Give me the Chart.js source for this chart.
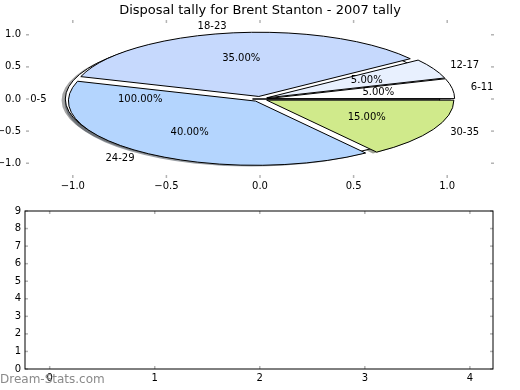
<!DOCTYPE html>
<html>
<head>
<meta charset="utf-8">
<script src="https://cdn.jsdelivr.net/npm/chart.js@4/dist/chart.umd.min.js"></script>
<style>
  body{ margin:0; background:#fff; }
  #wrap{ position:relative; width:520px; height:390px; }
  canvas{ position:absolute; left:0; }
  #pieChart{ top:0; }
  #emptyChart{ top:200px; }
</style>
</head>
<body>
<div id="wrap">
  <canvas id="pieChart" width="520" height="200"></canvas>
  <canvas id="emptyChart" width="520" height="190"></canvas>
</div>
<script>
// data
const titleText = 'Disposal tally for Brent Stanton - 2007 tally';
const baseGroups = ['0-5'];
const baseShares = [100];
const groups = ['6-11', '12-17', '18-23', '24-29', '30-35'];
const shares = [5, 5, 35, 40, 15];
const pieTicks = [-1.0, -0.5, 0.0, 0.5, 1.0];
const lowerXTicks = [0, 1, 2, 3, 4];
const lowerYTicks = [0, 1, 2, 3, 4, 5, 6, 7, 8, 9];

// styles
const baseColors = ['#ffffff'];
const sliceColors = ['#ffffff', '#e8f0fe', '#c6d9fd', '#b4d5fe', '#d0ea8b'];
const EXPLODE = 0.04;
const FONT = '"DejaVu Sans", sans-serif';

function wedges(values, labels, colors){
  const total = values.reduce((a, b) => a + b, 0);
  let a = 0;
  return values.map((v, i) => {
    const span = v / total * 2 * Math.PI;
    const mid = a + span / 2;
    const w = { a0:a, a1:a + span, mid, ox:EXPLODE * Math.cos(mid), oy:EXPLODE * Math.sin(mid),
                label:labels[i], pct:v / total * 100, color:colors[i] };
    a += span;
    return w;
  });
}

function wedgePath(ctx, xs, ys, w, dx, dy){
  const px = xs.getPixelForValue(w.ox + dx), py = ys.getPixelForValue(w.oy + dy);
  const rx = xs.getPixelForValue(1) - xs.getPixelForValue(0);
  const ry = ys.getPixelForValue(0) - ys.getPixelForValue(1);
  ctx.beginPath();
  ctx.moveTo(px, py);
  ctx.ellipse(px, py, rx, ry, 0, -w.a0, -w.a1, true);
  ctx.closePath();
}

function shadowOf(hex){
  const n = parseInt(hex.slice(1), 16);
  const r = (n >> 16) & 255, g = (n >> 8) & 255, b = n & 255;
  return 'rgba(' + Math.round(r * 0.3) + ',' + Math.round(g * 0.3) + ',' + Math.round(b * 0.3) + ',0.5)';
}

const piePlugin = {
  id:'piePlugin',
  afterDatasetsDraw(chart){
    const { ctx, scales:{ x, y } } = chart;
    const all = wedges(baseShares, baseGroups, baseColors).concat(wedges(shares, groups, sliceColors));
    ctx.save();
    // shadows below every wedge
    all.forEach(w => {
      wedgePath(ctx, x, y, w, -0.02, -0.02);
      ctx.fillStyle = shadowOf(w.color);
      ctx.fill();
    });
    all.forEach(w => {
      wedgePath(ctx, x, y, w, 0, 0);
      ctx.fillStyle = w.color;
      ctx.fill();
      ctx.strokeStyle = '#000';
      ctx.lineWidth = 1;
      ctx.stroke();
    });
    // labels
    ctx.font = '10px ' + FONT;
    ctx.fillStyle = '#000';
    ctx.textBaseline = 'middle';
    all.forEach(w => {
      const c = Math.cos(w.mid), s = Math.sin(w.mid);
      const lx = w.ox + 1.1 * c, ly = w.oy + 1.1 * s;
      ctx.textAlign = lx > 0 ? 'left' : 'right';
      ctx.fillText(w.label, x.getPixelForValue(lx), y.getPixelForValue(ly));
      ctx.textAlign = 'center';
      ctx.fillText(w.pct.toFixed(2) + '%', x.getPixelForValue(w.ox + 0.6 * c), y.getPixelForValue(w.oy + 0.6 * s));
    });
    // title
    ctx.font = '13px ' + FONT;
    ctx.textAlign = 'center';
    ctx.fillText(titleText, 260, 10.5);
    ctx.restore();
  }
};

// matplotlib style inward tick marks
const tickMarks = {
  id:'tickMarks',
  afterDraw(chart){
    const { ctx, chartArea:ca, scales:{ x, y } } = chart;
    ctx.save();
    ctx.strokeStyle = '#b4b4b4';
    ctx.lineWidth = 1.5;
    const seg = (x1, y1, x2, y2) => { ctx.beginPath(); ctx.moveTo(x1, y1); ctx.lineTo(x2, y2); ctx.stroke(); };
    x.ticks.forEach(t => {
      const p = x.getPixelForValue(t.value);
      seg(p, ca.top, p, ca.top + 3);
      seg(p, ca.bottom, p, ca.bottom - 3);
    });
    y.ticks.forEach(t => {
      const p = y.getPixelForValue(t.value);
      seg(ca.left, p, ca.left + 3, p);
      seg(ca.right, p, ca.right - 3, p);
    });
    ctx.restore();
  }
};

const framePlugin = {
  id:'framePlugin',
  afterDraw(chart){
    const { ctx, chartArea:ca } = chart;
    ctx.save();
    ctx.strokeStyle = '#000';
    ctx.lineWidth = 1;
    ctx.strokeRect(ca.left, ca.top, ca.right - ca.left, ca.bottom - ca.top);
    // watermark
    ctx.font = '12px ' + FONT;
    ctx.fillStyle = '#8a8a8a';
    ctx.textAlign = 'left';
    ctx.textBaseline = 'middle';
    ctx.fillText('Dream-Stats.com', 0, 180);
    ctx.restore();
  }
};

function axis(min, max, ticks, fmt, size, isX, pad){
  return {
    type:'linear', min, max,
    afterBuildTicks: s => { s.ticks = ticks.map(v => ({ value:v })); },
    afterFit: s => { if(isX) s.height = size; else s.width = size; },
    grid:{ display:false, drawTicks:false },
    border:{ display:false },
    ticks:{ color:'#000', font:{ family:FONT, size:10 }, padding:pad, autoSkip:false, maxRotation:0, callback:fmt }
  };
}

const baseOpts = {
  responsive:false,
  animation:false,
  events:[],
  plugins:{ legend:{ display:false }, tooltip:{ enabled:false } }
};

const oneDec = v => v.toFixed(1).replace('-', '\u2212');
const whole = v => String(v);

new Chart(document.getElementById('pieChart'), {
  type:'scatter',
  data:{ datasets:[{ data:[] }] },
  options:Object.assign({}, baseOpts, {
    layout:{ padding:{ top:20, right:26, left:0, bottom:0 } },
    scales:{
      x:axis(-1.25, 1.25, pieTicks, oneDec, 22, true, 2),
      y:axis(-1.23, 1.23, pieTicks, oneDec, 26, false, 5)
    }
  }),
  plugins:[piePlugin, tickMarks]
});

new Chart(document.getElementById('emptyChart'), {
  type:'scatter',
  data:{ datasets:[{ data:[] }] },
  options:Object.assign({}, baseOpts, {
    layout:{ padding:{ top:11, right:27, left:0, bottom:0 } },
    scales:{
      x:axis(-0.235, 4.22, lowerXTicks, whole, 21, true, 3),
      y:axis(0, 9, lowerYTicks, whole, 25, false, 4)
    }
  }),
  plugins:[tickMarks, framePlugin]
});
</script>
</body>
</html>
